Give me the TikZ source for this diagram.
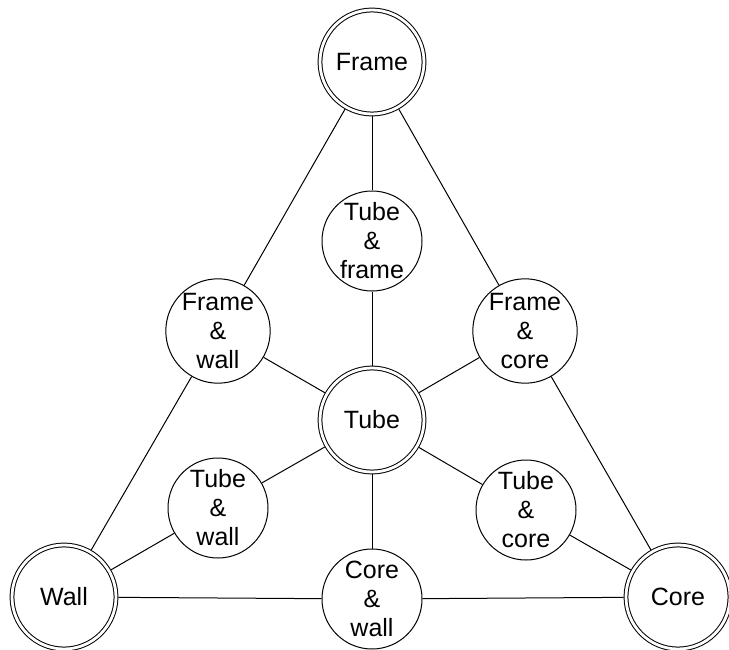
\documentclass[tikz,border=0pt]{standalone}
\usepackage{fontspec}
\setmainfont{Liberation Sans}
\begin{document}
\begin{tikzpicture}[x=1pt, y=-1pt, line width=1pt,
        main/.style={circle, draw, double, double distance=2.8pt, minimum size=104pt, inner sep=0pt, outer sep=2.4pt, font=\fontsize{25}{29}\selectfont},
        mixed/.style={circle, draw, minimum size=100pt, inner sep=0pt, outer sep=0.5pt, align=center, font=\fontsize{25}{29}\selectfont}]
        \useasboundingbox (0, 0) rectangle (729, 650);
        \node[main] (frame) at (372, 62) {Frame};
        \node[main] (tube) at (372, 420) {Tube};
        \node[main] (wall) at (64, 597) {Wall};
        \node[main] (core) at (678, 597) {Core};
        \node[mixed] (tf) at (372, 241) {Tube\\\&\\frame};
        \node[mixed] (fw) at (218, 331) {Frame\\\&\\wall};
        \node[mixed] (fc) at (525, 331) {Frame\\\&\\core};
        \node[mixed] (tw) at (218, 508) {Tube\\\&\\wall};
        \node[mixed] (tc) at (526, 510) {Tube\\\&\\core};
        \node[mixed] (cw) at (372, 599) {Core\\\&\\wall};
        \draw (frame) to (fw);
        \draw (fw) to (wall);
        \draw (frame) to (tf);
        \draw (tf) to (tube);
        \draw (frame) to (fc);
        \draw (fc) to (core);
        \draw (wall) to (cw);
        \draw (cw) to (core);
        \draw (wall) to (tw);
        \draw (tw) to (tube);
        \draw (core) to (tc);
        \draw (tc) to (tube);
        \draw (fw) to (tube);
        \draw (fc) to (tube);
        \draw (cw) to (tube);
    \end{tikzpicture}
\end{document}
